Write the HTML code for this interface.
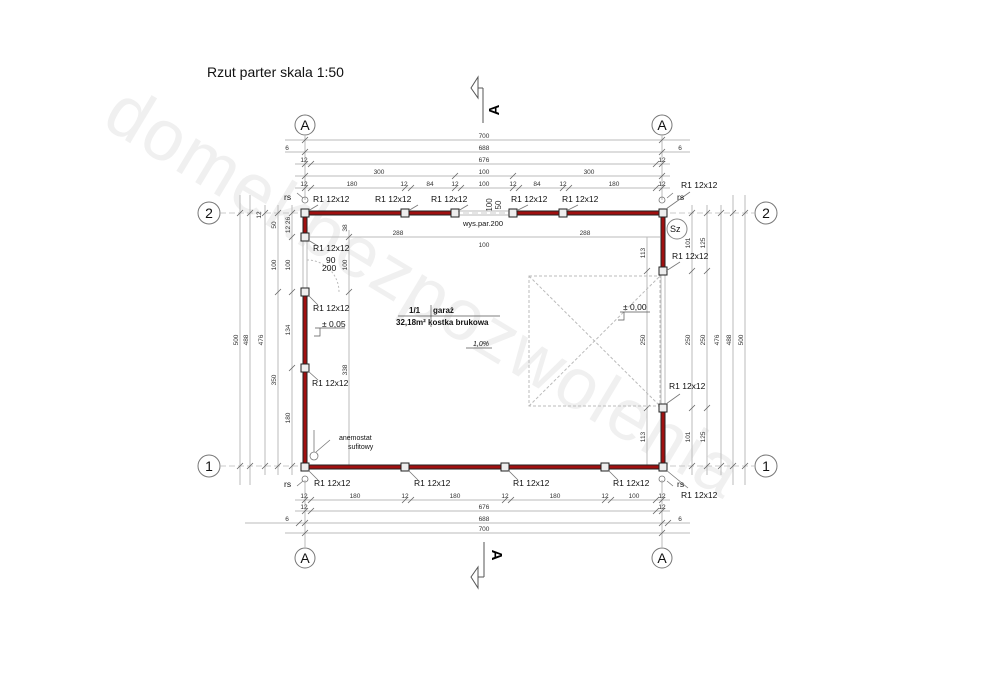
<!DOCTYPE html>
<html><head><meta charset="utf-8"><style>
html,body{margin:0;padding:0;background:#fff}
svg{display:block}
text{font-family:"Liberation Sans",Arial,sans-serif}
</style></head><body>
<svg width="984" height="682" viewBox="0 0 984 682" xmlns="http://www.w3.org/2000/svg">
<text x="100" y="125" font-size="72" fill="#f0f0f0" transform="rotate(31 100 125)" letter-spacing="2">domekbezpozwolenia</text>

<text x="207" y="77" font-size="14" fill="#111">Rzut parter  skala 1:50</text>

<g stroke="#555" fill="none" stroke-width="1">
<line x1="483" y1="88" x2="483" y2="123"/><line x1="478" y1="88" x2="483" y2="88"/>
<polygon points="478,77 471,88 478,98" fill="#fff"/>
<line x1="484" y1="542" x2="484" y2="577"/><line x1="478" y1="577" x2="484" y2="577"/>
<polygon points="478,567 471,577 478,588" fill="#fff"/>
</g>
<text x="499" y="110" font-size="15" font-weight="bold" transform="rotate(-90 499 110)" text-anchor="middle">A</text>
<text x="492" y="555" font-size="15" font-weight="bold" transform="rotate(90 492 555)" text-anchor="middle">A</text>

<g stroke="#777" fill="#fff" stroke-width="1">
<circle cx="305" cy="125" r="10"/><circle cx="662" cy="125" r="10"/>
<circle cx="305" cy="558" r="10"/><circle cx="662" cy="558" r="10"/>
<circle cx="209" cy="213" r="11"/><circle cx="766" cy="213" r="11"/>
<circle cx="209" cy="466" r="11"/><circle cx="766" cy="466" r="11"/>
</g>
<g font-size="14" text-anchor="middle" fill="#111">
<text x="305" y="130">A</text><text x="662" y="130">A</text>
<text x="305" y="563">A</text><text x="662" y="563">A</text>
<text x="209" y="218">2</text><text x="766" y="218">2</text>
<text x="209" y="471">1</text><text x="766" y="471">1</text>
</g>
<g stroke="#bbb" stroke-dasharray="6,3" stroke-width="0.7">
<line x1="220" y1="213" x2="755" y2="213"/><line x1="220" y1="466" x2="755" y2="466"/>
</g>

<g stroke="#bbb" stroke-width="1">
<line x1="285" y1="140" x2="690" y2="140"/><line x1="285" y1="152" x2="690" y2="152"/>
<line x1="295" y1="164" x2="670" y2="164"/><line x1="295" y1="176" x2="670" y2="176"/>
<line x1="295" y1="188" x2="670" y2="188"/>
<line x1="295" y1="500" x2="670" y2="500"/><line x1="295" y1="511" x2="670" y2="511"/>
<line x1="245" y1="523" x2="690" y2="523"/><line x1="285" y1="533" x2="690" y2="533"/>
<line x1="305" y1="135" x2="305" y2="200"/><line x1="662" y1="135" x2="662" y2="200"/>
<line x1="305" y1="480" x2="305" y2="548"/><line x1="662" y1="480" x2="662" y2="548"/>
<line x1="240" y1="195" x2="240" y2="485"/><line x1="250" y1="195" x2="250" y2="485"/>
<line x1="265" y1="205" x2="265" y2="475"/><line x1="278" y1="205" x2="278" y2="475"/>
<line x1="292" y1="205" x2="292" y2="475"/><line x1="349" y1="230" x2="349" y2="467"/>
<line x1="647" y1="237" x2="647" y2="467"/><line x1="692" y1="205" x2="692" y2="475"/>
<line x1="707" y1="205" x2="707" y2="475"/><line x1="721" y1="205" x2="721" y2="475"/>
<line x1="733" y1="195" x2="733" y2="485"/><line x1="745" y1="195" x2="745" y2="485"/>
<line x1="310" y1="237" x2="660" y2="237"/>
</g>
<g stroke="#666" stroke-width="0.8">
<path d="M302,143 l6,-6 M302,155 l6,-6 M659,143 l6,-6 M659,155 l6,-6 M302,167 l6,-6 M308,167 l6,-6 M653,167 l6,-6 M659,167 l6,-6
M302,179 l6,-6 M452,179 l6,-6 M510,179 l6,-6 M659,179 l6,-6
M302,191 l6,-6 M308,191 l6,-6 M402,191 l6,-6 M408,191 l6,-6 M452,191 l6,-6 M458,191 l6,-6 M510,191 l6,-6 M516,191 l6,-6 M560,191 l6,-6 M566,191 l6,-6 M653,191 l6,-6 M659,191 l6,-6
M302,503 l6,-6 M308,503 l6,-6 M402,503 l6,-6 M408,503 l6,-6 M502,503 l6,-6 M508,503 l6,-6 M602,503 l6,-6 M608,503 l6,-6 M653,503 l6,-6 M659,503 l6,-6
M302,514 l6,-6 M308,514 l6,-6 M653,514 l6,-6 M659,514 l6,-6 M296,526 l6,-6 M302,526 l6,-6 M659,526 l6,-6 M665,526 l6,-6 M302,536 l6,-6 M659,536 l6,-6
M237,216 l6,-6 M247,216 l6,-6 M262,216 l6,-6 M275,216 l6,-6 M289,216 l6,-6 M289,240 l6,-6 M289,295 l6,-6 M289,371 l6,-6 M275,295 l6,-6 M346,240 l6,-6 M346,295 l6,-6
M237,469 l6,-6 M247,469 l6,-6 M262,469 l6,-6 M275,469 l6,-6 M289,469 l6,-6
M689,216 l6,-6 M704,216 l6,-6 M718,216 l6,-6 M730,216 l6,-6 M742,216 l6,-6 M689,274 l6,-6 M704,274 l6,-6 M689,411 l6,-6 M704,411 l6,-6 M644,274 l6,-6 M644,411 l6,-6
M689,469 l6,-6 M704,469 l6,-6 M718,469 l6,-6 M730,469 l6,-6 M742,469 l6,-6"/>
</g>
<g font-size="6.5" fill="#333" text-anchor="middle">
<text x="484" y="138">700</text><text x="484" y="150">688</text><text x="484" y="162">676</text>
<text x="287" y="150">6</text><text x="680" y="150">6</text>
<text x="304" y="162">12</text><text x="662" y="162">12</text>
<text x="379" y="174">300</text><text x="484" y="174">100</text><text x="589" y="174">300</text>
<text x="304" y="186">12</text><text x="352" y="186">180</text><text x="404" y="186">12</text><text x="430" y="186">84</text><text x="455" y="186">12</text><text x="484" y="186">100</text><text x="513" y="186">12</text><text x="537" y="186">84</text><text x="563" y="186">12</text><text x="614" y="186">180</text><text x="662" y="186">12</text>
<text x="304" y="498">12</text><text x="355" y="498">180</text><text x="405" y="498">12</text><text x="455" y="498">180</text><text x="505" y="498">12</text><text x="555" y="498">180</text><text x="605" y="498">12</text><text x="634" y="498">100</text><text x="662" y="498">12</text>
<text x="304" y="509">12</text><text x="484" y="509">676</text><text x="662" y="509">12</text>
<text x="287" y="521">6</text><text x="484" y="521">688</text><text x="680" y="521">6</text>
<text x="484" y="531">700</text>
<text x="398" y="235">288</text><text x="484" y="247">100</text><text x="585" y="235">288</text>
</g>
<g font-size="6.5" fill="#333" text-anchor="middle">
<text transform="translate(238,340) rotate(-90)">500</text>
<text transform="translate(248,340) rotate(-90)">488</text>
<text transform="translate(263,340) rotate(-90)">476</text>
<text transform="translate(276,225) rotate(-90)">50</text>
<text transform="translate(276,265) rotate(-90)">100</text>
<text transform="translate(276,380) rotate(-90)">350</text>
<text transform="translate(290,265) rotate(-90)">100</text>
<text transform="translate(290,330) rotate(-90)">134</text>
<text transform="translate(290,418) rotate(-90)">180</text>
<text transform="translate(290,225) rotate(-90)">12 26</text>
<text transform="translate(261,215) rotate(-90)">12</text>
<text transform="translate(347,228) rotate(-90)">38</text>
<text transform="translate(347,265) rotate(-90)">100</text>
<text transform="translate(347,370) rotate(-90)">338</text>
<text transform="translate(645,253) rotate(-90)">113</text>
<text transform="translate(645,340) rotate(-90)">250</text>
<text transform="translate(645,437) rotate(-90)">113</text>
<text transform="translate(690,243) rotate(-90)">101</text>
<text transform="translate(690,340) rotate(-90)">250</text>
<text transform="translate(690,437) rotate(-90)">101</text>
<text transform="translate(705,243) rotate(-90)">125</text>
<text transform="translate(705,340) rotate(-90)">250</text>
<text transform="translate(705,437) rotate(-90)">125</text>
<text transform="translate(719,340) rotate(-90)">476</text>
<text transform="translate(731,340) rotate(-90)">488</text>
<text transform="translate(743,340) rotate(-90)">500</text>
<text transform="translate(492,205) rotate(-90)" font-size="8">100</text>
<text transform="translate(501,205) rotate(-90)" font-size="8">50</text>
</g>

<g stroke="#bbb" stroke-width="1" fill="none">
<line x1="455" y1="211" x2="513" y2="211"/><line x1="455" y1="215" x2="513" y2="215"/>
<line x1="303" y1="237" x2="303" y2="292"/><line x1="307" y1="237" x2="307" y2="292"/>
<line x1="661" y1="271" x2="661" y2="408"/><line x1="665" y1="271" x2="665" y2="408"/>
<path d="M307,260 A32,32 0 0 1 339,292" stroke-dasharray="2,2"/>
<rect x="529" y="276" width="131" height="130" stroke-dasharray="3,2"/>
<line x1="529" y1="276" x2="660" y2="406" stroke-dasharray="3,2"/>
<line x1="529" y1="406" x2="660" y2="276" stroke-dasharray="3,2"/>
</g>
<g stroke="#222" stroke-width="5" fill="none">
<path d="M305,237 V213 H455 M513,213 H663 V271 M663,408 V467 H305 V292"/>
</g>
<g stroke="#a01010" stroke-width="3" fill="none">
<path d="M305,237 V213 H455 M513,213 H663 V271 M663,408 V467 H305 V292"/>
</g>
<g fill="#eee" stroke="#222" stroke-width="1">
<rect x="301" y="209" width="8" height="8"/><rect x="401" y="209" width="8" height="8"/><rect x="451" y="209" width="8" height="8"/>
<rect x="509" y="209" width="8" height="8"/><rect x="559" y="209" width="8" height="8"/><rect x="659" y="209" width="8" height="8"/>
<rect x="301" y="233" width="8" height="8"/><rect x="301" y="288" width="8" height="8"/><rect x="301" y="364" width="8" height="8"/>
<rect x="301" y="463" width="8" height="8"/><rect x="401" y="463" width="8" height="8"/><rect x="501" y="463" width="8" height="8"/>
<rect x="601" y="463" width="8" height="8"/><rect x="659" y="463" width="8" height="8"/>
<rect x="659" y="267" width="8" height="8"/><rect x="659" y="404" width="8" height="8"/>
</g>
<g stroke="#777" fill="none" stroke-width="0.8">
<circle cx="305" cy="200" r="3"/><circle cx="662" cy="200" r="3"/><circle cx="305" cy="479" r="3"/><circle cx="662" cy="479" r="3"/>
<line x1="297" y1="193" x2="303" y2="198"/><line x1="667" y1="198" x2="673" y2="193"/>
<line x1="297" y1="486" x2="303" y2="481"/><line x1="667" y1="481" x2="673" y2="486"/>
<path d="M308,211 L318,205"/><path d="M408,211 L418,205"/><path d="M458,211 L468,205"/><path d="M516,211 L528,205"/><path d="M566,211 L578,205"/>
<path d="M666,209 L690,192"/><path d="M308,240 L318,246"/><path d="M308,295 L318,305"/><path d="M308,371 L318,380"/>
<path d="M666,271 L680,262"/><path d="M666,404 L680,394"/>
<path d="M308,470 L318,480"/><path d="M408,470 L418,480"/><path d="M508,470 L518,480"/><path d="M608,470 L618,480"/><path d="M666,470 L688,488"/>
<circle cx="314" cy="456" r="4"/><line x1="314" y1="430" x2="314" y2="452"/><path d="M316,452 L330,440"/>
</g>
<circle cx="677" cy="229" r="10" fill="#fff" stroke="#888"/>
<g font-size="8.5" fill="#111">
<text x="670" y="232" font-size="9">Sz</text>
<text x="284" y="200">rs</text><text x="677" y="200">rs</text><text x="284" y="487">rs</text><text x="677" y="487">rs</text>
<text x="313" y="202">R1 12x12</text><text x="375" y="202">R1 12x12</text><text x="431" y="202">R1 12x12</text>
<text x="511" y="202">R1 12x12</text><text x="562" y="202">R1 12x12</text><text x="681" y="188">R1 12x12</text>
<text x="313" y="251">R1 12x12</text><text x="313" y="311">R1 12x12</text><text x="312" y="386">R1 12x12</text>
<text x="672" y="259">R1 12x12</text><text x="669" y="389">R1 12x12</text>
<text x="314" y="486">R1 12x12</text><text x="414" y="486">R1 12x12</text><text x="513" y="486">R1 12x12</text><text x="613" y="486">R1 12x12</text><text x="681" y="498">R1 12x12</text>
<text x="326" y="263">90</text><text x="322" y="271">200</text>
<text x="463" y="226" font-size="7.5">wys.par.200</text>
<text x="322" y="327">± 0,05</text><text x="623" y="310">± 0,00</text>
<text x="339" y="440" font-size="7">anemostat</text><text x="348" y="449" font-size="7">sufitowy</text>
<text x="409" y="313" font-size="8" font-weight="bold">1/1</text><text x="433" y="313" font-size="8" font-weight="bold">garaż</text>
<text x="396" y="325" font-size="8" font-weight="bold">32,18m² kostka brukowa</text>
<text x="473" y="346" font-size="7" font-style="italic">1,0%</text>
</g>
<g stroke="#555" stroke-width="0.7" fill="none">
<line x1="398" y1="316" x2="500" y2="316"/><line x1="431" y1="305" x2="431" y2="327"/>
<line x1="466" y1="348" x2="492" y2="348"/>
<path d="M315,328 h30 M320,328 v8 l-6,0 M620,312 h30 M624,312 v8 l-6,0"/>
</g>
</svg>
</body></html>
